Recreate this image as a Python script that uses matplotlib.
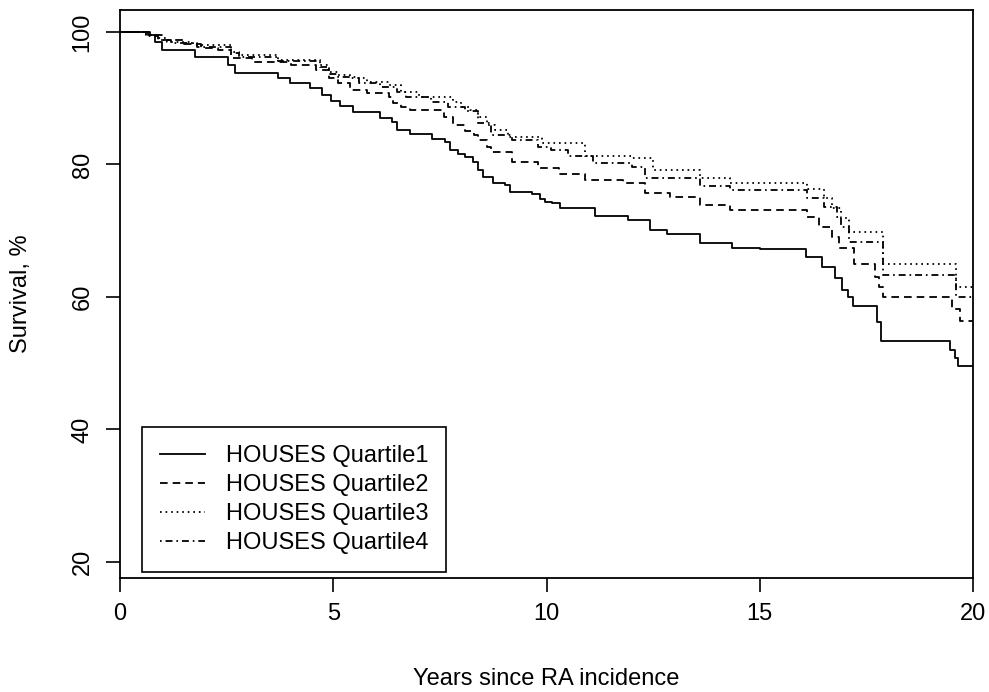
import matplotlib
matplotlib.use('Agg')
import matplotlib.pyplot as plt
import numpy as np

plt.rcParams['font.family'] = ['Liberation Sans', 'DejaVu Sans']
plt.rcParams['lines.scale_dashes'] = False

# Kaplan-Meier step curves (years, survival %)
q1_t = [0, 0.66, 0.82, 0.98, 1.76, 2.53, 2.70, 3.70, 3.99, 4.45, 4.74, 4.95, 5.16, 5.46,
        6.10, 6.38, 6.50, 6.80, 7.32, 7.62, 7.74, 7.93, 8.09, 8.28, 8.39, 8.51, 8.75,
        9.03, 9.14, 9.66, 9.85, 9.96, 10.13, 10.32, 11.14, 11.91, 12.43, 12.83, 13.60,
        14.35, 15.01, 16.08, 16.46, 16.76, 16.93, 17.07, 17.19, 17.75, 17.84, 19.46,
        19.58, 19.65]
q1_s = [100, 99.5, 98.5, 97.3, 96.2, 95.0, 93.8, 93.0, 92.3, 91.5, 90.5, 89.6, 88.8, 87.9,
        87.0, 86.4, 85.2, 84.6, 83.8, 83.4, 82.2, 81.6, 81.1, 80.4, 79.2, 78.1, 77.2,
        76.9, 75.8, 75.5, 74.8, 74.3, 74.2, 73.4, 72.2, 71.6, 70.1, 69.5, 68.1,
        67.4, 67.2, 66.0, 64.5, 62.9, 61.1, 60.0, 58.6, 56.2, 53.4, 52.0,
        50.8, 49.6]

q2_t = [0, 0.7, 1.0, 1.5, 1.9, 2.3, 2.6, 3.1, 4.0, 4.6, 4.9, 5.1, 5.4, 5.8, 6.3, 6.4, 6.6,
        6.8, 7.6, 7.8, 8.1, 8.3, 8.4, 8.6, 8.7, 9.2, 9.8, 10.3, 10.9, 11.8, 12.3, 12.9,
        13.6, 14.3, 16.1, 16.4, 16.7, 16.85, 17.2, 17.7, 17.8, 17.9, 19.5, 19.7]
q2_s = [100, 99.6, 98.8, 98.2, 97.6, 97.3, 96.1, 95.5, 95.0, 94.3, 93.0, 92.3, 91.2, 90.8,
        90.2, 89.3, 88.7, 88.2, 87.2, 86.0, 85.0, 84.5, 83.7, 82.6, 81.9, 80.4, 79.4,
        78.6, 77.7, 77.2, 75.7, 75.1, 73.9, 73.1, 72.0, 70.6, 69.1, 67.4, 65.0, 63.0,
        61.5, 60.0, 58.2, 56.4]

q3_t = [0, 0.6, 0.9, 1.1, 1.7, 2.6, 2.8, 3.7, 4.7, 4.9, 5.1, 5.4, 5.8, 6.3, 6.6, 7.0, 7.8,
        8.0, 8.2, 8.4, 8.6, 8.8, 9.1, 9.9, 10.9, 12.0, 12.5, 13.6, 14.3, 16.1, 16.5, 16.7,
        16.9, 17.1, 17.9, 19.6]
q3_s = [100, 99.5, 99.1, 98.5, 98.0, 97.0, 96.5, 95.8, 95.0, 94.0, 93.5, 93.0, 92.5, 92.0,
        91.0, 90.2, 89.5, 88.7, 88.2, 87.2, 86.0, 85.2, 84.2, 83.2, 81.3, 81.0, 79.2,
        78.0, 77.2, 76.3, 75.0, 73.4, 71.9, 69.8, 65.0, 61.5]

q4_t = [0, 0.6, 0.9, 1.2, 1.8, 2.6, 2.8, 3.7, 4.7, 4.9, 5.1, 5.6, 6.1, 6.5, 6.7, 7.3, 7.7,
        8.1, 8.4, 8.7, 9.2, 9.8, 10.1, 10.5, 11.1, 12.0, 12.3, 13.6, 14.3, 16.1, 16.5,
        16.8, 16.9, 17.1, 17.9, 19.6]
q4_s = [100, 99.4, 98.8, 98.4, 97.8, 96.8, 96.3, 95.6, 94.7, 93.7, 93.2, 92.3, 91.7, 91.0,
        90.2, 89.5, 88.7, 88.0, 86.3, 84.5, 83.7, 82.6, 82.2, 81.3, 80.2, 79.6, 78.0,
        76.8, 76.1, 75.0, 73.6, 72.1, 70.6, 68.3, 63.3, 60.0]

labels = ['HOUSES Quartile1', 'HOUSES Quartile2', 'HOUSES Quartile3', 'HOUSES Quartile4']
styles = ['-', (0, (5.5, 3.6)), (0, (1.2, 2.8)), (0, (1.2, 2.8, 5.0, 2.8))]
t_end = 20

fig = plt.figure(figsize=(9.89, 6.92), dpi=100)
ax = fig.add_axes([120/989, 1 - 578/692, 853/989, 568/692])

for t, s, lab, ls in zip([q1_t, q2_t, q3_t, q4_t], [q1_s, q2_s, q3_s, q4_s], labels, styles):
    tt = list(t) + [t_end]
    ss = list(s) + [s[-1]]
    ax.step(tt, ss, where='post', color='black', lw=1.3, linestyle=ls, label=lab)

ax.set_xlim(0, 20)
ax.set_ylim(17.58, 103.32)
ax.set_xticks([0, 5, 10, 15, 20])
ax.set_yticks([20, 40, 60, 80, 100])
ax.tick_params(length=10, width=1.2, labelsize=17, direction='out')
ax.tick_params(axis='x', pad=8)
ax.tick_params(axis='y', pad=9)
for lbl in ax.get_yticklabels():
    lbl.set_rotation(90)
    lbl.set_va('center')
for sp in ax.spines.values():
    sp.set_linewidth(1.3)

ax.set_xlabel('Years since RA incidence', fontsize=17)
ax.set_ylabel('Survival, %', fontsize=17)
ax.xaxis.set_label_coords(0.5, -0.178)
ax.xaxis.label.set_va('center')
ax.yaxis.set_label_coords(-0.116, 0.5)
ax.yaxis.label.set_va('center')

leg = ax.legend(loc='lower left', bbox_to_anchor=(0.0258, 0.0106), fontsize=17,
                frameon=True, fancybox=False, edgecolor='black', framealpha=1,
                handlelength=1.9, handletextpad=0.9, borderpad=0.75, labelspacing=0.3,
                borderaxespad=0)
leg.get_frame().set_linewidth(1.2)

fig.savefig('out.png', dpi=100)
